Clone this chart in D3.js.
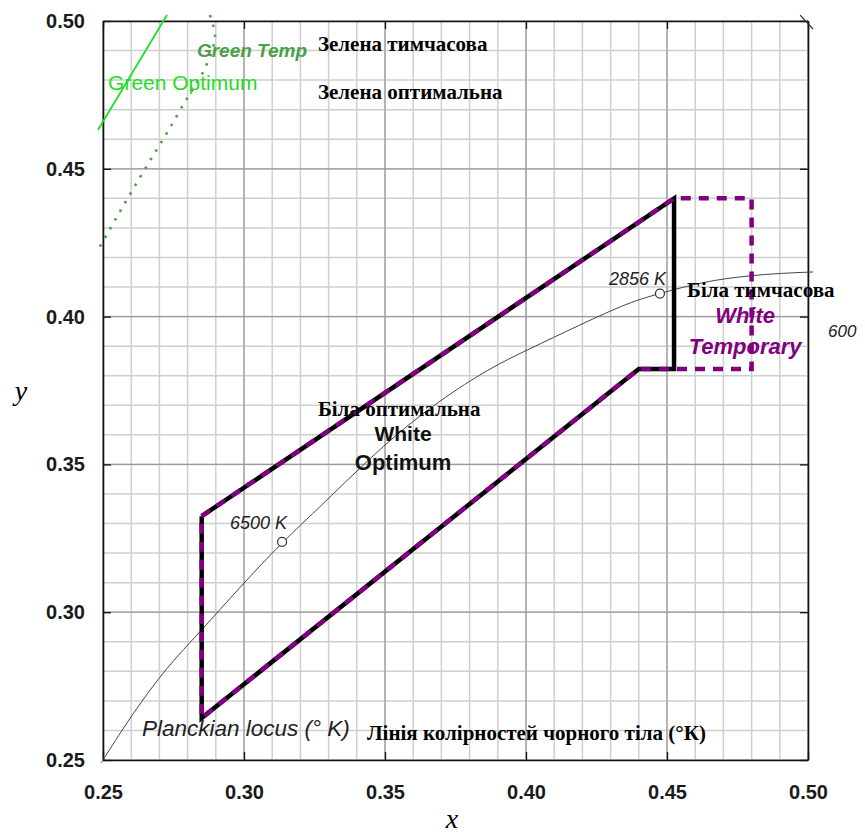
<!DOCTYPE html>
<html>
<head>
<meta charset="utf-8">
<script src="https://cdn.jsdelivr.net/npm/d3@7"></script>
<style>
  body { margin: 0; background: #fff; }
  svg { display: block; }
</style>
</head>
<body>
<script>
// ticks on both axes
var xTicks = [0.25, 0.30, 0.35, 0.40, 0.45, 0.50];
var yTicks = [0.25, 0.30, 0.35, 0.40, 0.45, 0.50];

// Planckian locus
var planckX = [0.2493, 0.25, 0.2606, 0.2727, 0.2844, 0.2986, 0.3135, 0.3270, 0.3500, 0.3695, 0.3872, 0.4004, 0.4191, 0.4369, 0.4475, 0.4546, 0.4663, 0.4840, 0.5018];
var planckY = [0.2490, 0.25, 0.2659, 0.2815, 0.2933, 0.3085, 0.3237, 0.3356, 0.3572, 0.3718, 0.3826, 0.3887, 0.3972, 0.4050, 0.4078, 0.4097, 0.4124, 0.4144, 0.4151];
var markX = [0.3135, 0.4475];
var markY = [0.3238, 0.4078];

// white optimum region (solid black)
var optimumX = [0.285, 0.4525, 0.4525, 0.440, 0.285, 0.285];
var optimumY = [0.3325, 0.440, 0.3823, 0.3823, 0.2642, 0.3325];

// white temporary region (purple dashed)
var temporaryX = [0.285, 0.4525, 0.480, 0.480, 0.440, 0.285, 0.285];
var temporaryY = [0.3325, 0.440, 0.440, 0.3823, 0.3823, 0.2642, 0.3325];

// green lines
var greenOptX = [0.2482, 0.2727];
var greenOptY = [0.4631, 0.5020];
var greenTempX = [0.2879, 0.2897, 0.2862, 0.2801, 0.2720, 0.2638, 0.2557, 0.2482];
var greenTempY = [0.5020, 0.4946, 0.4841, 0.4743, 0.4611, 0.4482, 0.4350, 0.4225];

// little stub at the top right corner
var stubX = [0.4972, 0.5018];
var stubY = [0.5020, 0.4973];

var margin = {top: 21, right: 57, bottom: 74, left: 103},
    width = 865 - margin.left - margin.right,
    height = 834 - margin.top - margin.bottom;

var root = d3.select("body").append("svg")
    .attr("width", 865)
    .attr("height", 834);

var svg = root.append("g")
    .attr("transform", "translate(" + margin.left + "," + margin.top + ")");

var x = d3.scaleLinear().domain([0.25, 0.50]).range([0, width]);
var y = d3.scaleLinear().domain([0.25, 0.50]).range([height, 0]);

var minorX = d3.range(26).map(function(i){ return 0.25 + i * 0.01; });
var minorY = d3.range(26).map(function(i){ return 0.25 + i * 0.01; });

// grid
svg.append("g").selectAll("line")
    .data(minorX)
    .enter().append("line")
    .attr("x1", function(d){ return x(d); })
    .attr("x2", function(d){ return x(d); })
    .attr("y1", 0).attr("y2", height)
    .attr("stroke", "#cfcfcf").attr("stroke-width", 1.5);

svg.append("g").selectAll("line")
    .data(minorY)
    .enter().append("line")
    .attr("y1", function(d){ return y(d); })
    .attr("y2", function(d){ return y(d); })
    .attr("x1", 0).attr("x2", width)
    .attr("stroke", "#cfcfcf").attr("stroke-width", 1.5);

svg.append("g").selectAll("line")
    .data(xTicks)
    .enter().append("line")
    .attr("x1", function(d){ return x(d); })
    .attr("x2", function(d){ return x(d); })
    .attr("y1", 0).attr("y2", height)
    .attr("stroke", "#9a9a9a").attr("stroke-width", 1.2);

svg.append("g").selectAll("line")
    .data(yTicks)
    .enter().append("line")
    .attr("y1", function(d){ return y(d); })
    .attr("y2", function(d){ return y(d); })
    .attr("x1", 0).attr("x2", width)
    .attr("stroke", "#9a9a9a").attr("stroke-width", 1.2);

// axes
var fmt = d3.format(".2f");
var xAxis = d3.axisBottom(x).tickValues(xTicks).tickFormat(fmt).tickSize(-8).tickSizeOuter(0).tickPadding(25);
var yAxis = d3.axisLeft(y).tickValues(yTicks).tickFormat(fmt).tickSize(-8).tickSizeOuter(0).tickPadding(18);
var xTop = d3.axisTop(x).tickValues(xTicks).tickFormat("").tickSize(-8).tickSizeOuter(0);
var yRight = d3.axisRight(y).tickValues(yTicks).tickFormat("").tickSize(-8).tickSizeOuter(0);

function styleAxis(g){
  g.selectAll("path").attr("stroke", "#111").attr("stroke-width", 1.6);
  g.selectAll("line").attr("stroke", "#111").attr("stroke-width", 1.3);
  g.selectAll("text")
    .attr("fill", "#1a1a1a")
    .style("font-family", "'Liberation Sans', Arial, sans-serif")
    .style("font-size", "20px")
    .style("font-weight", "bold");
}

svg.append("g").attr("transform", "translate(0," + height + ")").call(xAxis).call(styleAxis);
svg.append("g").call(yAxis).call(styleAxis);
svg.append("g").call(xTop).call(styleAxis);
svg.append("g").attr("transform", "translate(" + width + ",0)").call(yRight).call(styleAxis);

function pts(xs, ys){
  return xs.map(function(d, i){ return [d, ys[i]]; });
}

var line = d3.line()
    .x(function(d){ return x(d[0]); })
    .y(function(d){ return y(d[1]); });

var smooth = d3.line()
    .x(function(d){ return x(d[0]); })
    .y(function(d){ return y(d[1]); })
    .curve(d3.curveCatmullRom.alpha(0.5));

var soft = d3.line()
    .x(function(d){ return x(d[0]); })
    .y(function(d){ return y(d[1]); })
    .curve(d3.curveBasis);

// green lines
svg.append("path")
    .attr("d", line(pts(greenOptX, greenOptY)))
    .attr("fill", "none").attr("stroke", "#22dd22").attr("stroke-width", 1.8);

svg.append("path")
    .attr("d", smooth(pts(greenTempX, greenTempY)))
    .attr("fill", "none").attr("stroke", "#4aa04a").attr("stroke-width", 2.6)
    .attr("stroke-dasharray", "2.5,7.5");

svg.append("path")
    .attr("d", line(pts(stubX, stubY)))
    .attr("fill", "none").attr("stroke", "#333").attr("stroke-width", 1.2);

// planckian locus
svg.append("path")
    .attr("d", soft(pts(planckX, planckY)))
    .attr("fill", "none").attr("stroke", "#444").attr("stroke-width", 1);

// white regions
svg.append("path")
    .attr("d", line(pts(optimumX, optimumY)))
    .attr("fill", "none").attr("stroke", "#000").attr("stroke-width", 4.5)
    .attr("stroke-linejoin", "miter");

svg.append("path")
    .attr("d", line(pts(temporaryX, temporaryY)))
    .attr("fill", "none").attr("stroke", "#800080").attr("stroke-width", 4.5)
    .attr("stroke-dasharray", "10,8");

svg.selectAll("circle.mark")
    .data(pts(markX, markY))
    .enter().append("circle")
    .attr("class", "mark")
    .attr("cx", function(d){ return x(d[0]); })
    .attr("cy", function(d){ return y(d[1]); })
    .attr("r", 4.5)
    .attr("fill", "#fff").attr("stroke", "#333").attr("stroke-width", 1.2);

// labels
var sans = "'Liberation Sans', Arial, sans-serif";
var serif = "'Liberation Serif', 'Times New Roman', serif";

function label(text, lx, ly, opts){
  return svg.append("text")
    .attr("x", x(lx)).attr("y", y(ly))
    .attr("text-anchor", opts.anchor || "start")
    .attr("fill", opts.color || "#000")
    .style("font-family", opts.family || sans)
    .style("font-size", opts.size + "px")
    .style("font-style", opts.italic ? "italic" : "normal")
    .style("font-weight", opts.bold ? "bold" : "normal")
    .text(text);
}

label("Green Temp", 0.2833, 0.4878, {size: 19, italic: true, bold: true, color: "#4aa04a"});
label("Green Optimum", 0.2518, 0.4767, {size: 21, color: "#22dd22"});
label("2856 K", 0.4294, 0.4107, {size: 18, italic: true, color: "#222"});
label("6500 K", 0.2950, 0.3281, {size: 18, italic: true, color: "#222"});
label("600", 0.5071, 0.3931, {size: 17, italic: true, color: "#222"});
label("Planckian locus (° K)", 0.2638, 0.2581, {size: 22.5, italic: true, color: "#222"});
label("White", 0.3564, 0.3578, {size: 21, bold: true, anchor: "middle", color: "#111"});
label("Optimum", 0.3564, 0.3482, {size: 22, bold: true, anchor: "middle", color: "#111"});
label("White", 0.4777, 0.3978, {size: 22, bold: true, italic: true, anchor: "middle", color: "#800080"});
label("Temporary", 0.4777, 0.3873, {size: 22, bold: true, italic: true, anchor: "middle", color: "#800080"});

label("Зелена тимчасова", 0.3262, 0.4899, {size: 21, bold: true, family: serif});
label("Зелена оптимальна", 0.3262, 0.4736, {size: 21, bold: true, family: serif});
label("Біла оптимальна", 0.3262, 0.3664, {size: 21, bold: true, family: serif});
label("Біла тимчасова", 0.4571, 0.4066, {size: 21, bold: true, family: serif});
label("Лінія колірностей чорного тіла (°К)", 0.3436, 0.2568, {size: 21, bold: true, family: serif});

// axis titles
root.append("text")
    .attr("x", 21).attr("y", 400)
    .attr("text-anchor", "middle")
    .style("font-family", serif)
    .style("font-size", "28px")
    .style("font-style", "italic")
    .text("y");

root.append("text")
    .attr("x", 452).attr("y", 828)
    .attr("text-anchor", "middle")
    .style("font-family", serif)
    .style("font-size", "28px")
    .style("font-style", "italic")
    .text("x");
</script>
</body>
</html>
